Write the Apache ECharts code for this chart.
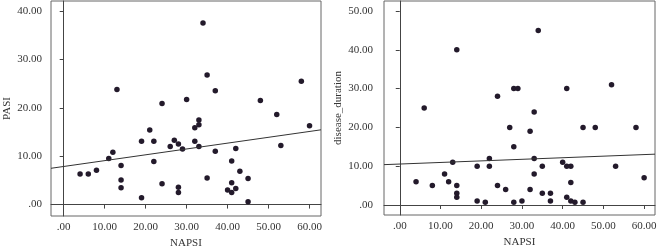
<!DOCTYPE html>
<html>
<head>
<meta charset="utf-8">
<script src="https://cdn.jsdelivr.net/npm/echarts@6/dist/echarts.min.js"></script>
<style>
  html, body { margin: 0; padding: 0; background: #fff; }
  #chart { width: 657px; height: 248px; }
</style>
</head>
<body>
<div id="chart"></div>
<script>
// 左图: NAPSI vs PASI
var napsiL = [4, 6, 8, 11, 12, 13, 14, 14, 14, 19, 19, 21, 22, 22, 24, 24, 26, 27, 28, 28, 28, 29, 30, 32, 32, 33, 33, 33, 34, 35, 35, 37, 37, 40, 41, 41, 41, 42, 42, 43, 45, 45, 48, 52, 53, 58, 60];
var pasi = [6.3, 6.3, 7.1, 9.5, 10.8, 23.8, 8.1, 5.1, 3.5, 13.1, 1.4, 15.4, 13.1, 8.9, 20.9, 4.3, 12.0, 13.3, 12.5, 3.6, 2.5, 11.5, 21.7, 15.9, 13.1, 17.5, 16.5, 12.0, 37.5, 26.8, 5.5, 23.5, 11.0, 3.0, 9.0, 4.5, 2.5, 11.6, 3.3, 6.9, 5.4, 0.6, 21.5, 18.6, 12.2, 25.5, 16.3];
// 右图: NAPSI vs disease_duration
var napsiR = [14, 6, 24, 28, 29, 34, 41, 52, 33, 27, 28, 13, 22, 19, 22, 11, 4, 12, 8, 14, 14, 14, 24, 26, 19, 21, 28, 30, 32, 45, 48, 58, 33, 35, 40, 41, 42, 53, 33, 60, 42, 32, 35, 37, 37, 41, 42, 43, 45];
var duration = [40, 25, 28, 30, 30, 45, 30, 31, 24, 20, 15, 11, 12, 10, 10, 8, 6, 6, 5, 5, 3, 2, 5, 4, 1, 0.7, 0.7, 1, 19, 20, 20, 20, 12, 10, 11, 10, 10, 10, 8, 7, 5.8, 4, 3, 3, 1, 2, 1, 0.7, 0.7];
// 回归线端点
var fitL = [[-3.1, 7.5], [62.8, 15.45]];
var fitR = [[-3.87, 10.4], [62.67, 13.1]];
// 刻度
var xTicks = [0, 10, 20, 30, 40, 50, 60];
var yTicksL = [0, 10, 20, 30, 40];
var yTicksR = [0, 10, 20, 30, 40, 50];

var font = '"Liberation Serif", "Times New Roman", serif';
var txt = '#333';
var dotColor = '#231a2b';

function fmt(v) {
    return v === 0 ? '.00' : v.toFixed(2);
}

function makeAxis(min, max, ticks, name, gap, lblMargin) {
    return {
        type: 'value',
        min: min,
        max: max,
        name: name,
        nameLocation: 'middle',
        nameGap: gap,
        nameTextStyle: { fontFamily: font, fontSize: 11, color: txt },
        axisLine: { show: true, lineStyle: { color: '#444', width: 1 } },
        axisTick: { show: true, length: 4, customValues: ticks, lineStyle: { color: '#444' } },
        axisLabel: { customValues: ticks, formatter: fmt, fontFamily: font, fontSize: 11, color: txt, margin: lblMargin },
        splitLine: { show: false }
    };
}

var myChart = echarts.init(document.getElementById('chart'));

var option = {
    animation: false,
    grid: [
        { left: 51, top: 1, width: 270, height: 215, show: true, borderColor: '#666', borderWidth: 1, containLabel: false, outerBoundsMode: 'none' },
        { left: 384, top: 1, width: 271, height: 214, show: true, borderColor: '#666', borderWidth: 1, containLabel: false, outerBoundsMode: 'none' }
    ],
    xAxis: [
        Object.assign(makeAxis(-3.1, 62.8, xTicks, 'NAPSI', 22, 6), { gridIndex: 0 }),
        Object.assign(makeAxis(-3.87, 62.67, xTicks, 'NAPSI', 22, 6), { gridIndex: 1 })
    ],
    yAxis: [
        Object.assign(makeAxis(-2.36, 42.07, yTicksL, 'PASI', 38, 9), { gridIndex: 0 }),
        Object.assign(makeAxis(-2.58, 52.58, yTicksR, 'disease_duration', 40, 11), { gridIndex: 1 })
    ],
    series: [
        {
            type: 'scatter',
            xAxisIndex: 0,
            yAxisIndex: 0,
            symbolSize: 5.5,
            itemStyle: { color: dotColor, opacity: 1 },
            data: napsiL.map(function(v, i) { return [v, pasi[i]]; })
        },
        {
            type: 'line',
            xAxisIndex: 0,
            yAxisIndex: 0,
            showSymbol: false,
            lineStyle: { color: '#333', width: 1 },
            data: fitL
        },
        {
            type: 'scatter',
            xAxisIndex: 1,
            yAxisIndex: 1,
            symbolSize: 5.5,
            itemStyle: { color: dotColor, opacity: 1 },
            data: napsiR.map(function(v, i) { return [v, duration[i]]; })
        },
        {
            type: 'line',
            xAxisIndex: 1,
            yAxisIndex: 1,
            showSymbol: false,
            lineStyle: { color: '#333', width: 1 },
            data: fitR
        }
    ]
};

myChart.setOption(option);
</script>
</body>
</html>
